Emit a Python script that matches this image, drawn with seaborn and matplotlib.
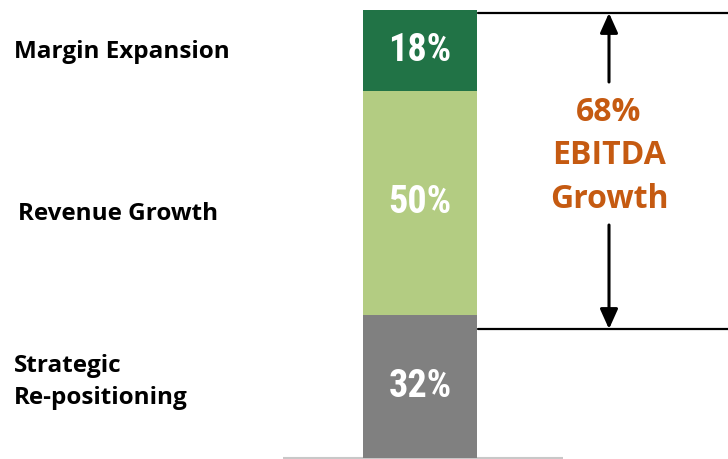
import matplotlib
matplotlib.use("Agg")
import matplotlib.pyplot as plt
from matplotlib import font_manager
import seaborn as sns
import numpy as np

# Data
categories = ["Strategic\nRe-positioning", "Revenue Growth", "Margin Expansion"]
values = [32, 50, 18]
colors = ["#808080", "#b3cc82", "#217346"]
total_label = "68%\nEBITDA\nGrowth"

sns.set_theme(style="white")
plt.rcParams["font.family"] = ["Open Sans", "DejaVu Sans"]

# pick a narrow font for the bar labels if available
names = {f.name for f in font_manager.fontManager.ttflist}
narrow_kw = dict(family=["Liberation Sans", "DejaVu Sans"], fontsize=22)
for cand in ["Liberation Sans Narrow", "Arial Narrow", "Roboto Condensed",
             "Open Sans Condensed", "DejaVu Sans Condensed"]:
    if cand in names:
        narrow_kw = dict(family=[cand, "DejaVu Sans"], fontsize=27.5)
        break
else:
    cond = [f for f in font_manager.fontManager.ttflist
            if f.name == "DejaVu Sans" and str(f.stretch) in ("condensed", "semi-condensed")]
    if cond:
        narrow_kw = dict(family=["DejaVu Sans"], fontstretch="condensed", fontsize=22)

W, H = 728, 459
fig = plt.figure(figsize=(W / 100, H / 100), dpi=100)
ax = fig.add_axes([0, 0, 1, 1])

# Pixel mapping: value 0 at y=458, 100 at y=10
scale = 4.48
y0 = 458
ax.set_xlim(0, W)
ax.set_ylim(-(H - y0) / scale, y0 / scale)
ax.axis("off")

def vy(px):
    return (y0 - px) / scale

bar_x = 420
bar_w = 114
bottoms = np.concatenate([[0], np.cumsum(values)[:-1]])
for v, b, c in zip(values, bottoms, colors):
    ax.bar(bar_x, v, bottom=b, width=bar_w, color=c, edgecolor="none", zorder=2)
    ax.text(bar_x, b + v / 2, f"{v}%", ha="center", va="center", color="white",
            fontweight="bold", zorder=3, **narrow_kw)

# Baseline
ax.plot([283, 563], [vy(458), vy(458)], color="#c8c8c8", lw=1.5, zorder=1,
        solid_capstyle="butt")

# Category labels on the left
label_pos = [(14, vy(382)), (18, vy(214)), (14, vy(52))]
for (x, y), lab in zip(label_pos, categories):
    ax.text(x, y, lab, ha="left", va="center", fontsize=17.5, fontweight="bold",
            color="black", linespacing=1.45)

# Bracket lines
top_px, bot_px = 13, 329
ax.plot([478, W], [vy(top_px), vy(top_px)], color="black", lw=1.6)
ax.plot([478, W], [vy(bot_px), vy(bot_px)], color="black", lw=1.6)

arrow_x = 609
ap = dict(arrowstyle="-|>,head_length=1.0,head_width=0.45", color="black", lw=2.2,
          shrinkA=0, shrinkB=0)
ax.annotate("", xy=(arrow_x, vy(top_px)), xytext=(arrow_x, vy(82)), arrowprops=ap)
ax.annotate("", xy=(arrow_x, vy(bot_px)), xytext=(arrow_x, vy(225)), arrowprops=ap)

ax.text(arrow_x, vy(156), total_label, ha="center", va="center", color="#c55a11",
        fontsize=23, fontweight="bold", linespacing=1.42)

fig.savefig("out.png", dpi=100)
